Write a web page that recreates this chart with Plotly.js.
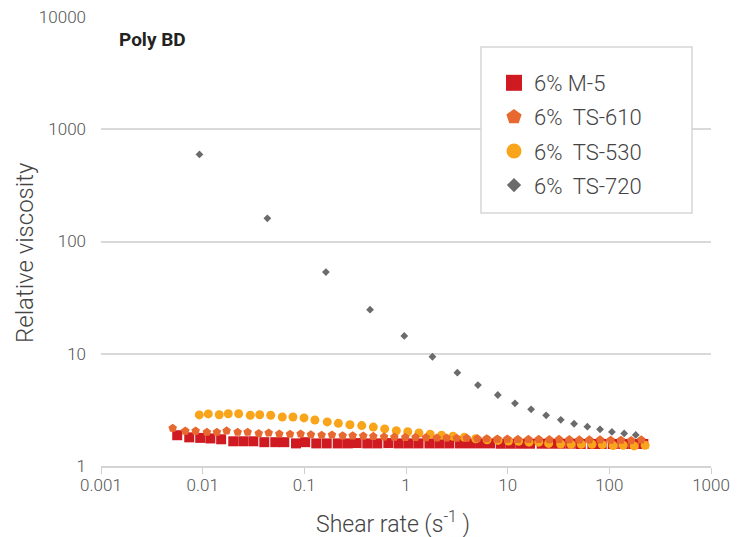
<!DOCTYPE html>
<html><head><meta charset="utf-8">
<script src="https://cdn.plot.ly/plotly-3.0.1.min.js"></script>
<style>html,body{margin:0;padding:0;background:#fff;}#chart{width:742px;height:537px;}</style>
</head><body><div id="chart"></div>
<script>
// ---- data ----
const m5X = [0.00562,0.00738,0.00946,0.0119,0.0152,0.0200,0.0251,0.0315,0.0404,0.0518,0.0635,0.0828,0.102,0.131,0.166,0.213,0.267,0.327,0.416,0.522,0.670,0.847,1.06,1.33,1.70,2.13,2.67,3.40,4.26,5.35,6.70,8.54,10.7,13.4,16.6,21.6,26.7,33.2,41.7,52.3,68.1,84.1,108,137,172,216];
const m5Y = [1.88,1.80,1.78,1.76,1.73,1.66,1.66,1.66,1.63,1.63,1.63,1.59,1.63,1.59,1.59,1.59,1.59,1.60,1.59,1.59,1.60,1.59,1.59,1.59,1.59,1.59,1.59,1.59,1.59,1.59,1.59,1.58,1.58,1.58,1.58,1.58,1.58,1.58,1.58,1.57,1.57,1.57,1.57,1.57,1.57,1.57];

const ts610X = [0.00507,0.00675,0.00853,0.0110,0.0138,0.0172,0.0221,0.0277,0.0356,0.0446,0.0567,0.0723,0.0920,0.116,0.148,0.187,0.238,0.299,0.380,0.477,0.608,0.768,0.984,1.24,1.57,2.01,2.51,3.15,3.95,5.03,6.22,7.91,9.93,12.6,16.0,20.2,25.7,32.0,40.4,50.7,63.6,81.1,103,130,164,206];
const ts610Y = [2.17,2.05,2.05,2.00,2.00,2.06,2.00,2.00,1.95,1.97,1.93,1.92,1.93,1.90,1.88,1.89,1.86,1.86,1.85,1.84,1.82,1.81,1.80,1.80,1.79,1.78,1.78,1.77,1.77,1.75,1.75,1.74,1.74,1.73,1.73,1.73,1.72,1.73,1.72,1.71,1.71,1.71,1.70,1.70,1.69,1.71];

const ts530X = [0.00926,0.01135,0.01456,0.01786,0.0226,0.0294,0.0364,0.0467,0.0607,0.0773,0.0993,0.127,0.168,0.216,0.281,0.367,0.477,0.617,0.803,1.04,1.34,1.73,2.24,2.90,3.75,4.85,6.27,8.04,10.2,12.8,16.2,20.2,25.3,33.2,42.0,53.0,67.6,85.4,109,137,175,225];
const ts530Y = [2.85,2.91,2.86,2.92,2.92,2.83,2.86,2.83,2.73,2.73,2.68,2.57,2.47,2.40,2.33,2.29,2.22,2.14,2.06,2.02,1.97,1.92,1.88,1.84,1.80,1.75,1.71,1.69,1.67,1.66,1.63,1.63,1.59,1.57,1.56,1.56,1.56,1.55,1.52,1.53,1.51,1.53];

const ts720X = [0.0093,0.0433,0.163,0.443,0.962,1.82,3.2,5.1,8.0,11.8,17.0,23.9,33.3,45,60.8,81,106,140,182];
const ts720Y = [597,161,53.4,24.7,14.4,9.4,6.78,5.26,4.29,3.62,3.2,2.83,2.58,2.38,2.24,2.12,2.01,1.95,1.89];

const seriesNames = ["6% M-5", "6%\u00a0 TS-610", "6%\u00a0 TS-530", "6%\u00a0 TS-720"];
const yTickVals = [1, 10, 100, 1000, 10000];
const yTickText = ["1", "10", "100", "1000", "10000"];
const xTickVals = [0.001, 0.01, 0.1, 1, 10, 100, 1000];
const xTickText = ["0.001", "0.01", "0.1", "1", "10", "100", "1000"];
const chartLabel = "Poly BD";
const xTitle = "Shear rate (s<sup>-1</sup> )";
const yTitle = "Relative viscosity";

const FONT = "Roboto, 'Liberation Sans', sans-serif";

const colors = ["#cf1a22", "#e8692f", "#f9a51b", "#6b6b6b"];
const symbols = ["square", "pentagon", "circle", "diamond"];

// data traces (drawn red, yellow, orange, grey), no legend entries
const traces = [
  {x: m5X, y: m5Y, type: "scatter", mode: "markers", showlegend: false,
   marker: {symbol: symbols[0], size: 10, color: colors[0]}},
  {x: ts530X, y: ts530Y, type: "scatter", mode: "markers", showlegend: false,
   marker: {symbol: symbols[2], size: 9, color: colors[2]}},
  {x: ts610X, y: ts610Y, type: "scatter", mode: "markers", showlegend: false,
   marker: {symbol: symbols[1], size: 9, color: colors[1]}},
  {x: ts720X, y: ts720Y, type: "scatter", mode: "markers", showlegend: false,
   marker: {symbol: symbols[3], size: 6, color: colors[3]}}
];
// legend-only entries with larger keys
const legendSizes = [16, 16, 15, 11];
seriesNames.forEach((n, i) => {
  traces.push({x: [null], y: [null], name: n, type: "scatter", mode: "markers",
    legendgroup: "g" + i, showlegend: true,
    marker: {symbol: symbols[i], size: legendSizes[i], color: colors[i]}});
});

const layout = {
  width: 742, height: 537,
  margin: {l: 101, r: 31, t: 17, b: 71},
  paper_bgcolor: "#fff", plot_bgcolor: "#fff",
  font: {family: FONT, color: "#555"},
  showlegend: true,
  legend: {x: (494-101)/610, y: 1-(62-17)/449, xanchor: "left", yanchor: "top",
           bgcolor: "rgba(0,0,0,0)", borderwidth: 0,
           font: {family: FONT, size: 22, color: "#444", weight: 300},
           traceorder: "grouped", tracegroupgap: 2.5},
  xaxis: {type: "log", range: [-3, 3], tickvals: xTickVals, ticktext: xTickText,
          showgrid: false, zeroline: false, showline: true, linecolor: "#d4d4d4", linewidth: 2,
          ticks: "outside", ticklen: 6, tickwidth: 1, tickcolor: "#cfcfcf", ticklabelstandoff: -3,
          tickfont: {family: FONT, size: 17, color: "#555", weight: 300}},
  yaxis: {type: "log", range: [0, 4], tickvals: yTickVals, ticktext: yTickText,
          showgrid: true, gridcolor: "#d9d9d9", gridwidth: 2, zeroline: false, showline: false,
          ticks: "", ticklabelstandoff: 14,
          tickfont: {family: FONT, size: 17, color: "#555", weight: 300}},
  shapes: [
    {type: "rect", xref: "paper", yref: "paper", layer: "above",
     x0: (481-101)/610, x1: (692-101)/610, y0: 1-(213-17)/449, y1: 1-(47-17)/449,
     line: {color: "#d6d6d6", width: 1.5}, fillcolor: "#fff"}
  ],
  annotations: [
    {text: "<b>" + chartLabel + "</b>", xref: "paper", yref: "paper", x: (117-101)/610, y: 1-(40-17)/449,
     xanchor: "left", yanchor: "middle", showarrow: false,
     font: {family: FONT, size: 19, color: "#222"}},
    {text: yTitle, xref: "paper", yref: "paper", x: (25-101)/610, y: 1-(253-17)/449,
     xanchor: "center", yanchor: "middle", textangle: -90, showarrow: false,
     font: {family: FONT, size: 24, color: "#444", weight: 300}},
    {text: xTitle, xref: "paper", yref: "paper", x: (393-101)/610, y: 1-(522-17)/449,
     xanchor: "center", yanchor: "middle", showarrow: false,
     font: {family: FONT, size: 23, color: "#444", weight: 300}}
  ]
};

Plotly.newPlot("chart", traces, layout, {displayModeBar: false, staticPlot: true});
</script></body></html>
